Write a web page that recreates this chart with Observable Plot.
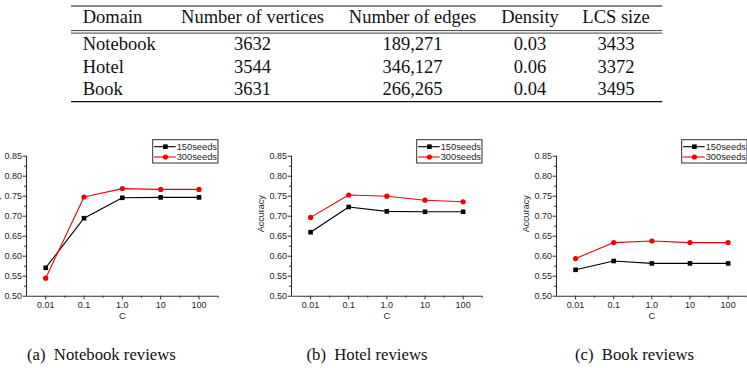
<!DOCTYPE html>
<html>
<head>
<meta charset="utf-8">
<script src="https://cdn.jsdelivr.net/npm/d3@7"></script>
<script src="https://cdn.jsdelivr.net/npm/@observablehq/plot@0.6"></script>
<style>
  html, body { margin: 0; padding: 0; background: #fff; }
  #page { position: relative; width: 747px; height: 368px; overflow: hidden; background: #fff; }
  #page > svg { position: absolute; }
</style>
</head>
<body>
<div id="page"></div>
<script>
// ---- Graph statistics table ----
const tableHeader = ["Domain", "Number of vertices", "Number of edges", "Density", "LCS size"];
const domains = ["Notebook", "Hotel", "Book"];
const vertices = ["3632", "3544", "3631"];
const edges = ["189,271", "346,127", "266,265"];
const density = ["0.03", "0.06", "0.04"];
const lcsSize = ["3433", "3372", "3495"];

// ---- Accuracy vs. C for each review domain ----
const cLabels = ["0.01", "0.1", "1.0", "10", "100"];
const seriesNames = ["150seeds", "300seeds"];
const seriesColors = ["#000000", "#f00000"];
const seriesSymbols = ["square", "circle"];

const notebook150 = [0.571, 0.695, 0.746, 0.747, 0.747];
const notebook300 = [0.545, 0.748, 0.769, 0.767, 0.767];
const hotel150 = [0.660, 0.723, 0.712, 0.711, 0.711];
const hotel300 = [0.697, 0.753, 0.750, 0.740, 0.736];
const book150 = [0.566, 0.588, 0.582, 0.582, 0.582];
const book300 = [0.594, 0.634, 0.638, 0.634, 0.634];

const yTicks = [0.50, 0.55, 0.60, 0.65, 0.70, 0.75, 0.80, 0.85];
const yMinorTicks = [0.525, 0.575, 0.625, 0.675, 0.725, 0.775, 0.825];
const yLabel = "Accuracy";
const xLabel = "C";
const captions = ["(a)  Notebook reviews", "(b)  Hotel reviews", "(c)  Book reviews"];

const page = d3.select("#page");
const serif = "'Liberation Serif', 'Times New Roman', serif";
const sans = "'Liberation Sans', Arial, sans-serif";
const axisColor = "#303030";
const textColor = "#1e1e1e";

// ---- table (booktabs style) ----
const tbl = page.append("svg")
  .attr("width", 747).attr("height", 110)
  .style("left", "0px").style("top", "0px");
const tLeft = 71, tRight = 662.3;
const colX = [82.7, 252.5, 412.5, 530, 616];
const colAnchor = ["start", "middle", "middle", "middle", "middle"];
const rowBase = [50, 72.5, 94.8];
const rules = [[6, 1.2], [30.6, 0.8], [33.1, 0.8], [101.6, 1.2]];
rules.forEach(([y, w]) => tbl.append("line")
  .attr("x1", tLeft).attr("x2", tRight).attr("y1", y).attr("y2", y)
  .attr("stroke", "#111").attr("stroke-width", w));
const cellText = (x, y, anchor, s) => tbl.append("text")
  .attr("x", x).attr("y", y).attr("text-anchor", anchor)
  .attr("font-family", serif).attr("font-size", 18.5).attr("fill", "#111")
  .text(s);
tableHeader.forEach((h, j) => cellText(colX[j], 22.7, colAnchor[j], h));
const columns = [domains, vertices, edges, density, lcsSize];
domains.forEach((_, i) => columns.forEach((col, j) => cellText(colX[j], rowBase[i], colAnchor[j], col[i])));

// ---- one accuracy panel ----
function panel({s150, s300, left, width, marginLeft, marginRight}) {
  const rows = [];
  [s150, s300].forEach((vals, k) => vals.forEach((v, i) => rows.push({series: seriesNames[k], i, v})));
  const height = 200, marginTop = 25.7, marginBottom = 34.3;
  const plot = Plot.plot({
    width, height, marginLeft, marginRight, marginTop, marginBottom,
    style: {background: "transparent", overflow: "visible"},
    x: {type: "linear", domain: [-0.5, 4.5]},
    y: {domain: [0.5, 0.85]},
    color: {domain: seriesNames, range: seriesColors},
    symbol: {domain: seriesNames, range: seriesSymbols},
    marks: [
      Plot.axisY({ticks: yMinorTicks, tickSize: 2, tickFormat: () => "", label: null, stroke: axisColor}),
      Plot.axisY({ticks: yTicks, tickSize: 3.3, tickPadding: 1.2, tickFormat: d => d.toFixed(2),
        label: null, fontSize: 9, fontFamily: sans, fill: textColor, stroke: axisColor}),
      Plot.axisX({ticks: [0.5, 1.5, 2.5, 3.5, 4.5], tickSize: 2, tickFormat: () => "", label: null, stroke: axisColor}),
      Plot.axisX({ticks: [0, 1, 2, 3, 4], tickSize: 3.7, tickPadding: 2, tickFormat: i => cLabels[i],
        label: null, fontSize: 9, fontFamily: sans, fill: textColor, stroke: axisColor}),
      Plot.ruleX([-0.5], {stroke: axisColor, strokeWidth: 1.1}),
      Plot.ruleY([0.5], {stroke: axisColor, strokeWidth: 1.1}),
      Plot.text([xLabel], {frameAnchor: "bottom", dy: 23, fontSize: 9.5, fontFamily: sans, fill: textColor}),
      Plot.text([yLabel], {frameAnchor: "left", rotate: -90, dx: -30, dy: 6, fontSize: 9, fontFamily: sans, fill: textColor}),
      Plot.line(rows, {x: "i", y: "v", z: "series", stroke: "series", strokeWidth: 1.1}),
      Plot.dot(rows, {x: "i", y: "v", fill: "series", symbol: "series", r: 2.6, stroke: null})
    ]
  });
  const svg = d3.select(plot).style("left", left + "px").style("top", "130px");
  page.node().appendChild(plot);

  // legend box, aligned with the right end of the x axis
  const boxW = 65.3, boxH = 23.3;
  const bx = width - marginRight - boxW + 0.3, by = 9.7;
  const g = svg.append("g").attr("text-anchor", "start");
  g.append("rect").attr("x", bx).attr("y", by).attr("width", boxW).attr("height", boxH)
    .attr("fill", "#fff").attr("stroke", axisColor).attr("stroke-width", 1);
  seriesNames.forEach((name, k) => {
    const yy = by + 7 + k * 10.3;
    g.append("line").attr("x1", bx + 1.3).attr("x2", bx + 23).attr("y1", yy).attr("y2", yy)
      .attr("stroke", seriesColors[k]).attr("stroke-width", 1.1);
    const sym = d3.symbol(k === 0 ? d3.symbolSquare : d3.symbolCircle, Math.PI * 2.6 * 2.6);
    g.append("path").attr("d", sym()).attr("transform", `translate(${bx + 12.7},${yy})`)
      .attr("fill", seriesColors[k]);
    g.append("text").attr("x", bx + 24).attr("y", yy).attr("dy", "0.34em")
      .attr("text-anchor", "start")
      .attr("font-family", sans).attr("font-size", 9.3).attr("fill", textColor).text(name);
  });
}

panel({s150: notebook150, s300: notebook300, left: 0, width: 230, marginLeft: 26, marginRight: 12.3});
panel({s150: hotel150, s300: hotel300, left: 250, width: 240, marginLeft: 41, marginRight: 8.3});
panel({s150: book150, s300: book300, left: 500, width: 247, marginLeft: 56, marginRight: 0.3});

// ---- sub-figure captions ----
const cap = page.append("svg").attr("width", 747).attr("height", 40)
  .style("left", "0px").style("top", "328px");
const capX = [27, 306.5, 575];
captions.forEach((c, i) => cap.append("text")
  .attr("x", capX[i]).attr("y", 32).attr("font-family", serif).attr("font-size", 16.7)
  .attr("fill", "#111").style("white-space", "pre").text(c));
</script>
</body>
</html>
